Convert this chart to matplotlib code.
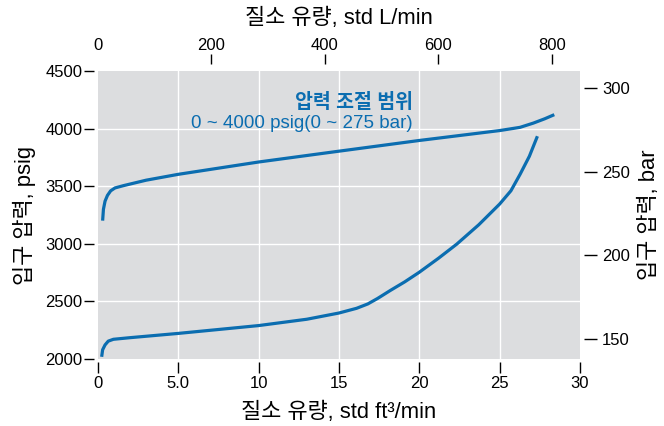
import matplotlib
matplotlib.use("Agg")
import matplotlib.pyplot as plt

plt.rcParams["font.family"] = ["Liberation Sans", "Noto Sans CJK KR"]

# flow in std ft3/min, inlet pressure in psig
upper_flow = [0.3, 0.35, 0.45, 0.6, 0.8, 1.07, 1.6, 3, 5, 10, 15, 20, 25, 26.27, 27.1, 27.8, 28.4]
upper_psig = [3201, 3300, 3370, 3420, 3460, 3485, 3505, 3552, 3603, 3710, 3804, 3897, 3983, 4011, 4048, 4085, 4121]

lower_flow = [0.24, 0.3, 0.45, 0.65, 0.97, 2, 5, 10, 13, 15, 16.1, 16.8, 17.4, 18.2, 19.1, 20,
              21.2, 22.33, 23.7, 25, 25.7, 26.27, 26.85, 27.35]
lower_psig = [2019, 2080, 2122, 2155, 2171, 2185, 2222, 2290, 2345, 2399, 2440, 2478, 2525, 2595, 2670, 2753,
              2875, 2997, 3165, 3345, 3460, 3603, 3760, 3934]

x_ticks = [0, 5, 10, 15, 20, 25, 30]
x_ticklabels = ["0", "5.0", "10", "15", "20", "25", "30"]
y_ticks = [2000, 2500, 3000, 3500, 4000, 4500]
top_ticks = [0, 200, 400, 600, 800]
bar_ticks = [150, 200, 250, 300]

PSI_PER_BAR = 14.5038
L_PER_FT3 = 28.317
BLUE = "#0b6db0"
LABEL_SIZE = 15.8
TICK_SIZE = 12

fig = plt.figure(figsize=(6.64, 4.26), dpi=100)
ax = fig.add_axes([0.1473, 0.1573, 0.7262, 0.676])
ax.set_facecolor("#dcdddf")
for s in ax.spines.values():
    s.set_visible(False)
ax.spines["left"].set_position(("outward", 3))
ax.spines["bottom"].set_position(("outward", 2))

for xs, ys in ((upper_flow, upper_psig), (lower_flow, lower_psig)):
    ax.plot(xs, ys, color=BLUE, lw=2.3, solid_capstyle="butt", solid_joinstyle="round")

ax.set_xlim(0, 30)
ax.set_ylim(2000, 4500)
ax.set_xticks(x_ticks)
ax.set_xticklabels(x_ticklabels)
ax.set_yticks(y_ticks)
ax.tick_params(axis="x", direction="out", length=8, width=1, labelsize=TICK_SIZE, pad=2)
ax.tick_params(axis="y", direction="out", length=7, width=1, labelsize=TICK_SIZE, pad=1)
for t in (ax.xaxis.get_major_ticks()[0], ax.xaxis.get_major_ticks()[-1],
          ax.yaxis.get_major_ticks()[0], ax.yaxis.get_major_ticks()[-1]):
    t.tick1line.set_visible(False)
for v in x_ticks[1:-1]:
    ax.axvline(v, color="white", lw=1, zorder=0.5)
for v in y_ticks[1:-1]:
    ax.axhline(v, color="white", lw=1, zorder=0.5)
ax.set_xlabel("질소 유량, std ft³/min", fontsize=LABEL_SIZE, labelpad=8)
ax.set_ylabel("입구 압력, psig", fontsize=LABEL_SIZE, labelpad=7)

ax.text(19.6, 4225, "압력 조절 범위", color=BLUE, fontsize=14, fontweight="bold",
        ha="right", va="center")
ax.text(19.6, 4046, "0 ~ 4000 psig(0 ~ 275 bar)", color=BLUE, fontsize=13.5,
        ha="right", va="center")

top = ax.twiny()
top.set_xlim(0, 30 * L_PER_FT3)
top.set_xticks(top_ticks)
for s in top.spines.values():
    s.set_visible(False)
top.spines["top"].set_position(("outward", 5))
top.tick_params(axis="x", direction="out", length=7, width=1, labelsize=TICK_SIZE, pad=1)
top.xaxis.get_major_ticks()[0].tick2line.set_visible(False)
top.set_xlabel("질소 유량, std L/min", fontsize=LABEL_SIZE, labelpad=10)

right = ax.twinx()
right.set_ylim(2000 / PSI_PER_BAR, 4500 / PSI_PER_BAR)
right.set_yticks(bar_ticks)
for s in right.spines.values():
    s.set_visible(False)
right.spines["right"].set_position(("outward", 3))
right.tick_params(axis="y", direction="out", length=9, width=1, labelsize=TICK_SIZE, pad=4)
right.set_ylabel("입구 압력, bar", fontsize=LABEL_SIZE, labelpad=6)

fig.savefig("out.png", dpi=100)
